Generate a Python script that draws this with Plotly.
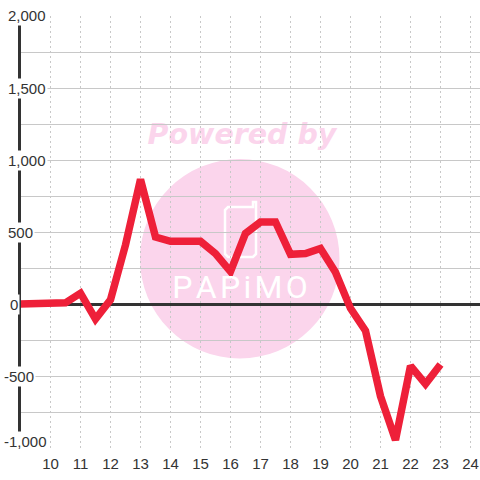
import plotly.graph_objects as go

hours = [8.9, 9.5, 10, 10.5, 11, 11.5, 12, 12.5, 13, 13.5, 14, 14.5, 15, 15.5, 16, 16.5,
         17, 17.5, 18, 18.5, 19, 19.5, 20, 20.5, 21, 21.5, 22, 22.5, 23]
values = [0, 0, 0, 8, 75, -105, 30, 410, 865, 465, 435, 435, 435, 350, 225, 490,
          570, 570, 345, 350, 385, 220, -30, -185, -640, -945, -430, -555, -420]
x_ticks = list(range(10, 25))
y_grid = [-1000, -750, -500, -250, 0, 250, 500, 750, 1000, 1250, 1500, 1750, 2000]
y_labels = {2000: "2,000", 1500: "1,500", 1000: "1,000", 500: "500", 0: "0", -500: "-500", -1000: "-1,000"}
label_left = {2000: 6, 1500: 6, 1000: 6, 500: 6, 0: 8, -500: 2, -1000: 2}
label_shift = {2000: 0, 1500: 0, 1000: 0, 500: 0, 0: 0, -500: 0, -1000: 7}

W = H = 480
px = lambda v: v / W
py = lambda v: 1 - v / H

INK = "#333333"
GRID = "#c8c8c8"
PINK = "#fbd5ec"
FONT = "Liberation Sans"

fig = go.Figure()

fig.add_trace(go.Scatter(
    x=[0.5], y=[0.5], mode="text", xaxis="x", yaxis="y",
    text=["<b><i>Powered by</i></b>"], textposition="middle center",
    textfont=dict(family="DejaVu Sans", size=28.5, color=PINK), hoverinfo="skip", showlegend=False,
))
fig.add_trace(go.Scatter(
    x=[0.5], y=[0.5], mode="text", xaxis="x3", yaxis="y3",
    text=["P\u200aA\u200aP\u200ai\u200aM\u200aO"], textposition="middle center",
    textfont=dict(family="Roboto", size=32, color="white"), hoverinfo="skip", showlegend=False,
))

fig.add_trace(go.Scatter(
    x=hours, y=values, mode="lines", xaxis="x2", yaxis="y2",
    line=dict(color="#ee2039", width=7.5, shape="linear"), cliponaxis=False,
    hoverinfo="skip", showlegend=False,
))

hidden = dict(visible=False, fixedrange=True, range=[0, 1])
phone = (f"M {px(228)} {py(207)} L {px(253)} {py(207)} L {px(253)} {py(202)} L {px(256)} {py(202)} "
         f"L {px(256)} {py(254)} L {px(253)} {py(257)} L {px(228)} {py(257)} L {px(225)} {py(254)} "
         f"L {px(225)} {py(210)} Z")

fig.update_layout(
    width=W, height=H, margin=dict(l=0, r=0, t=0, b=0),
    paper_bgcolor="white", plot_bgcolor="rgba(0,0,0,0)",
    xaxis=dict(domain=[px(122), px(362)], **hidden),
    yaxis=dict(domain=[py(158), py(116)], **hidden),
    xaxis3=dict(domain=[px(120), px(360)], **hidden),
    yaxis3=dict(domain=[py(311), py(269)], **hidden),
    xaxis2=dict(
        domain=[px(20.5), 1], range=[9, 24.317], tickmode="array",
        tickvals=x_ticks, ticktext=[str(t) for t in x_ticks],
        showgrid=True, gridcolor=GRID, griddash="2px,3px", gridwidth=1,
        ticks="outside", ticklen=2, tickcolor="rgba(0,0,0,0)", zeroline=False, showline=False,
        tickfont=dict(family=FONT, size=15, color=INK), anchor="y2",
    ),
    yaxis2=dict(
        domain=[py(448), py(16)], range=[-1000, 2000], tickmode="array", tickvals=y_grid,
        showticklabels=False, showgrid=True, gridcolor=GRID, gridwidth=1,
        zeroline=True, zerolinecolor=INK, zerolinewidth=3,
        showline=True, linecolor=INK, linewidth=3, anchor="x2",
    ),
    shapes=[
        dict(type="circle", xref="paper", yref="paper", x0=px(140), x1=px(339.5), y0=py(358.5), y1=py(159),
             fillcolor=PINK, line_width=0, layer="below"),
        dict(type="path", xref="paper", yref="paper", path=phone, line=dict(color="white", width=2.5),
             fillcolor="rgba(0,0,0,0)", layer="below"),
    ],
    annotations=[
        dict(xref="paper", yref="y2", x=px(label_left[v]), y=v, text=t, xanchor="left", yanchor="middle",
             showarrow=False, bgcolor="white", borderpad=1, yshift=label_shift[v],
             font=dict(family=FONT, size=15, color=INK))
        for v, t in y_labels.items()
    ],
)

fig.write_html("out.html", config=dict(displayModeBar=False),
               post_script="document.documentElement.style.margin='0';document.body.style.margin='0';")
